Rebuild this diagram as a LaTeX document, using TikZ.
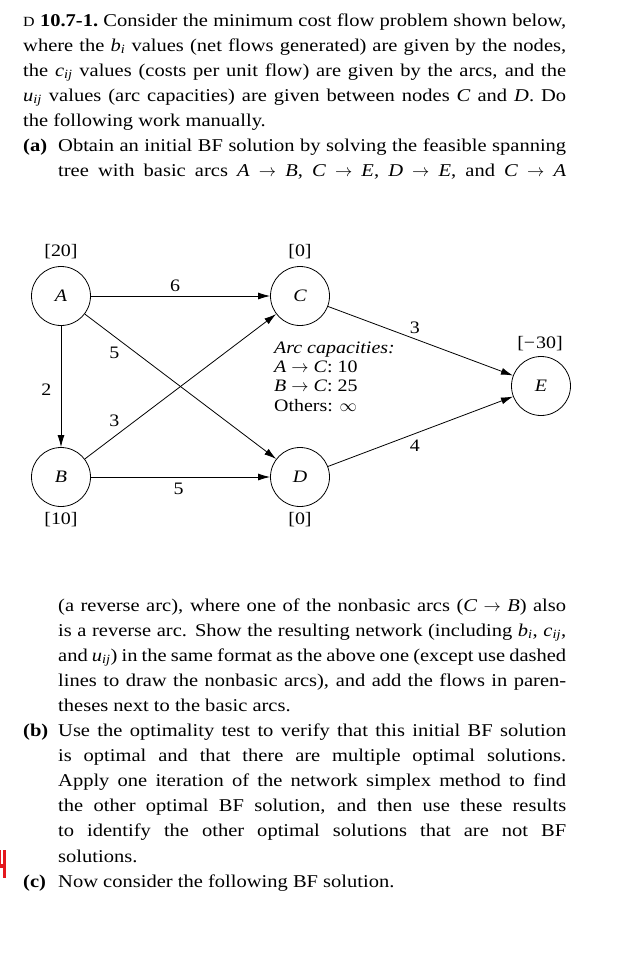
\documentclass[tikz,border=0pt]{standalone}
\usepackage{fontspec}
\setmainfont{Liberation Serif}[FakeStretch=1.14]
\usetikzlibrary{arrows.meta}
\newcommand{\vsub}[2]{\textit{#1}\textsubscript{\textit{#2}}}
\newcommand{\arcto}{~$\rightarrow$~}
\newcommand{\bodyfont}{\fontsize{18}{25.1}\selectfont}
\newcommand{\figfont}{\fontsize{17.5}{19.3}\selectfont}
\definecolor{markred}{RGB}{228,24,30}
\tolerance=10000
\hyphenpenalty=10000

\begin{document}
\begin{tikzpicture}[x=1pt,y=-1pt,
  netnode/.style={draw, circle, minimum size=59pt, inner sep=0pt, line width=0.8pt, font=\figfont\itshape},
  arc/.style={-{Latex[length=12pt,width=7pt]}, line width=0.8pt},
  cost/.style={font=\figfont},
  textblock/.style={text width=543pt, align=justify, inner sep=0pt, font=\bodyfont}]
\useasboundingbox (0,0) rectangle (622,975);

% problem statement
\node[textblock, anchor=base west] (intro) at (23,26) {%
{\fontsize{14}{14}\selectfont D}\ \textbf{10.7-1.}\ Consider the minimum cost flow problem shown below,\linebreak
where the \vsub{b}{i} values (net flows generated) are given by the nodes,\linebreak
the \vsub{c}{ij} values (costs per unit flow) are given by the arcs, and the\linebreak
\vsub{u}{ij} values (arc capacities) are given between nodes \textit{C} and \textit{D}. Do\linebreak
the following work manually.\par
\parfillskip=0pt \hangindent=35pt\hangafter=1 \makebox[35pt][l]{\textbf{(a)}}Obtain an initial BF solution by solving the feasible spanning\linebreak
tree with basic arcs \textit{A}\arcto\textit{B}, \textit{C}\arcto\textit{E}, \textit{D}\arcto\textit{E}, and \textit{C}\arcto\textit{A}\par};

% network
\node[netnode] (A) at (61,296) {A};
\node[netnode] (C) at (300,296) {C};
\node[netnode] (B) at (61,477) {B};
\node[netnode] (D) at (300,477) {D};
\node[netnode] (E) at (541,386) {E};

\node[cost] (supA) at (61,252) {[20]};
\node[cost] (supC) at (300,252) {[0]};
\node[cost] (supE) at (540,344) {[−\kern1pt30]};
\node[cost] (supB) at (61,520) {[10]};
\node[cost] (supD) at (300,520) {[0]};

\draw[arc] (A) -- node[cost, pos=0.47, above=1pt] (cAC) {6} (C);
\draw[arc] (A) -- node[cost, pos=0.53, left=6pt] (cAB) {2} (B);
\draw[arc] (A) -- node[cost, pos=0.2, below left] (cAD) {5} (D);
\draw[arc] (B) -- node[cost, pos=0.2, above left] (cBC) {3} (C);
\draw[arc] (B) -- node[cost, pos=0.49, below=2pt] (cBD) {5} (D);
\draw[arc] (C) -- node[cost, pos=0.47, above=2pt] (cCE) {3} (E);
\draw[arc] (D) -- node[cost, pos=0.47, below=3pt] (cDE) {4} (E);

\node[cost, align=left, inner sep=0pt, anchor=base west] (caps) at (274,411)
  {\textit{Arc capacities:}\\\textit{A}\arcto\textit{C}: 10\\\textit{B}\arcto\textit{C}: 25\\Others: $\infty$};

% rest of the problem
\node[textblock, anchor=base west] (parts) at (23,611) {%
\hangindent=35pt\hangafter=0 (a reverse arc), where one of the nonbasic arcs (\textit{C}\arcto\textit{B}) also\linebreak
is a reverse arc. Show the resulting network (including \vsub{b}{i}, \vsub{c}{ij},\linebreak
and \vsub{u}{ij}) in the same format as the above one (except use dashed\linebreak
lines to draw the nonbasic arcs), and add the flows in paren-\linebreak
theses next to the basic arcs.\par
\hangindent=35pt\hangafter=1 \makebox[35pt][l]{\textbf{(b)}}Use the optimality test to verify that this initial BF solution\linebreak
is optimal and that there are multiple optimal solutions.\linebreak
Apply one iteration of the network simplex method to find\linebreak
the other optimal BF solution, and then use these results\linebreak
to identify the other optimal solutions that are not BF\linebreak
solutions.\par
\hangindent=35pt\hangafter=1 \makebox[35pt][l]{\textbf{(c)}}Now consider the following BF solution.\par};

% margin mark
\fill[markred] (3,850) rectangle (6,878);
\fill[markred] (0,850) rectangle (1.4,868);
\fill[markred] (0,864) rectangle (5,868);
\end{tikzpicture}
\end{document}
